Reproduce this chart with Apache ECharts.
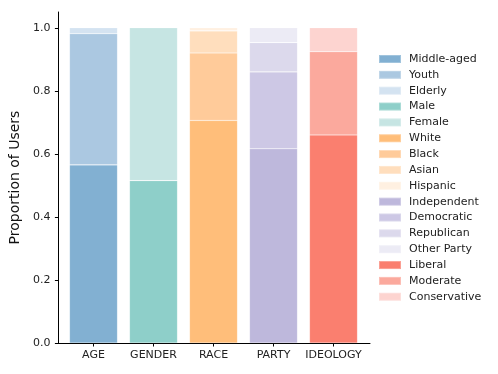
<!DOCTYPE html>
<html>
<head>
<meta charset="utf-8">
<script src="https://cdn.jsdelivr.net/npm/echarts@6/dist/echarts.min.js"></script>
<style>
  html, body { margin: 0; padding: 0; background: #fff; }
  #chart { width: 498px; height: 374px; }
</style>
</head>
<body>
<div id="chart"></div>
<script>
  // groups on the x axis
  const categories = ['AGE', 'GENDER', 'RACE', 'PARTY', 'IDEOLOGY']

  // proportions per group, bottom to top
  const ageNames = ['Middle-aged', 'Youth', 'Elderly']
  const ageValues = [0.565, 0.416, 0.019]
  const genderNames = ['Male', 'Female']
  const genderValues = [0.515, 0.485]
  const raceNames = ['White', 'Black', 'Asian', 'Hispanic']
  const raceValues = [0.706, 0.214, 0.070, 0.010]
  const partyNames = ['Independent', 'Democratic', 'Republican', 'Other Party']
  const partyValues = [0.616, 0.244, 0.093, 0.047]
  const ideologyNames = ['Liberal', 'Moderate', 'Conservative']
  const ideologyValues = [0.660, 0.264, 0.076]

  const yTicks = [0, 0.2, 0.4, 0.6, 0.8, 1.0]

  // colours per group (same order as the names)
  const ageColors = ['#82b0d2', '#abc8e1', '#d4e3f1']
  const genderColors = ['#8ecfc9', '#c6e5e3']
  const raceColors = ['#ffbe7a', '#ffcb9a', '#ffdebd', '#fff0e1']
  const partyColors = ['#beb8dc', '#cdc8e5', '#dcd9ec', '#ecebf5']
  const ideologyColors = ['#fa7f6f', '#fba99d', '#fdd4d0']

  const groups = [
    [ageNames, ageValues, ageColors],
    [genderNames, genderValues, genderColors],
    [raceNames, raceValues, raceColors],
    [partyNames, partyValues, partyColors],
    [ideologyNames, ideologyValues, ideologyColors]
  ]

  const font = 'DejaVu Sans'
  let series = []
  groups.forEach((g, gi) => {
    g[0].forEach((name, i) => {
      let data = categories.map((c, ci) => ci === gi ? g[1][i] : '-')
      series.push({
        name: name,
        type: 'bar',
        stack: 'all',
        xAxisIndex: 1,
        yAxisIndex: 1,
        barWidth: '80%',
        itemStyle: {
          color: g[2][i],
          borderColor: 'rgba(255,255,255,0.25)',
          borderWidth: 0.6
        },
        data: data
      })
    })
  })

  let chart = echarts.init(document.getElementById('chart'))
  chart.setOption({
    animation: false,
    textStyle: {fontFamily: font},
    legend: {
      orient: 'vertical',
      left: 373,
      top: 48,
      icon: 'rect',
      itemWidth: 22,
      itemHeight: 8,
      itemGap: 3.85,
      textStyle: {fontSize: 11, color: '#222', fontFamily: font, lineHeight: 12, padding: [0, 0, 0, 3]},
      data: series.map(s => s.name)
    },
    grid: [
      // frame grid: holds the visible y axis and the bottom spine
      {left: 55, right: 128, top: 12, bottom: 31},
      // bar grid: narrower, matches the bar spacing
      {left: 63.5, right: 134.5, top: 12, bottom: 31}
    ],
    xAxis: [
      {
        gridIndex: 0, type: 'value', min: 0, max: 1,
        axisLine: {show: true, lineStyle: {color: '#000', width: 1}},
        axisTick: {show: false}, axisLabel: {show: false}, splitLine: {show: false}
      },
      {
        gridIndex: 1, type: 'category', data: categories,
        axisLine: {show: false},
        axisTick: {show: true, alignWithLabel: true, interval: 0, length: 3.5, lineStyle: {color: '#000'}},
        axisLabel: {fontSize: 11, color: '#222', margin: 7, interval: 0, fontFamily: font},
        splitLine: {show: false}
      }
    ],
    yAxis: [
      {
        gridIndex: 0, type: 'value', min: 0, max: 1.05,
        name: 'Proportion of Users',
        nameLocation: 'middle',
        nameGap: 19,
        nameTextStyle: {fontSize: 14, color: '#111', fontFamily: font},
        axisLine: {show: true, lineStyle: {color: '#000', width: 1}},
        axisTick: {show: true, length: 3.5, lineStyle: {color: '#000'}, customValues: yTicks},
        axisLabel: {fontSize: 11, color: '#222', margin: 8, fontFamily: font,
          customValues: yTicks, formatter: v => v.toFixed(1)},
        splitLine: {show: false}
      },
      {gridIndex: 1, type: 'value', min: 0, max: 1.05, show: false}
    ],
    series: series
  })
</script>
</body>
</html>
